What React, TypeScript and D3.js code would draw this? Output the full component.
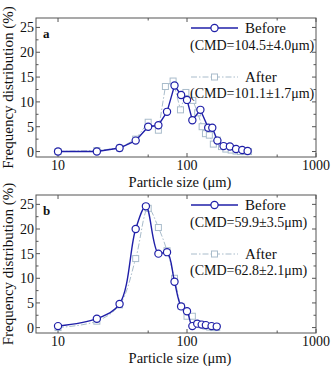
import React from 'react';
import * as d3 from 'd3';

// ---- data ----
const beforeA_x = [10, 20, 30, 40, 50, 60, 70, 80, 90, 100, 110, 127, 146, 157, 172, 192, 215, 240, 268, 295];
const beforeA_y = [0, 0, 0.7, 2.2, 5.0, 5.3, 8.0, 13.3, 11.4, 10.4, 6.3, 8.4, 4.8, 4.8, 2.2, 1.1, 1.0, 0.5, 0.3, 0.1];
const afterA_x = [10, 20, 30, 40, 50, 60, 68, 78, 89, 98, 111, 121, 131, 139, 149, 160, 172, 185, 200, 220, 240, 260, 280, 300];
const afterA_y = [0, 0.2, 0.7, 2.5, 5.9, 4.3, 13.1, 14.2, 8.4, 11.9, 10.3, 7.8, 5.0, 3.6, 3.3, 1.5, 2.3, 1.0, 0.5, 0.3, 0.1, 0, 0, 0];

const beforeB_x = [10, 20, 30, 40, 48, 60, 70, 80, 90, 100, 110, 120, 130, 140, 155, 170];
const beforeB_y = [0.3, 1.8, 4.8, 20.0, 24.6, 15.0, 15.3, 9.3, 4.3, 3.3, 0.3, 0.8, 0.6, 0.5, 0.3, 0.2];
const afterB_x = [10, 20, 30, 40, 50, 60, 70, 80, 90, 100, 110, 120, 130, 140, 150, 160, 170];
const afterB_y = [0, 1.3, 4.6, 14.0, 24.2, 20.3, 15.6, 10.0, 4.3, 2.3, 2.3, 0.8, 0.6, 0.3, 0.1, 0, 0];

const xTicks = [10, 100, 1000];
const xMinor = [50, 500];
const yTicks = [0, 5, 10, 15, 20, 25];
const yMinor = [2.5, 7.5, 12.5, 17.5, 22.5];

const panels = [
  { letter: 'a', top: 18, bottom: 157, bx: beforeA_x, by: beforeA_y, ax: afterA_x, ay: afterA_y,
    cmdBefore: '(CMD=104.5±4.0μm)', cmdAfter: '(CMD=101.1±1.7μm)', smooth: false },
  { letter: 'b', top: 195, bottom: 333, bx: beforeB_x, by: beforeB_y, ax: afterB_x, ay: afterB_y,
    cmdBefore: '(CMD=59.9±3.5μm)', cmdAfter: '(CMD=62.8±2.1μm)', smooth: true },
];

const BLUE = '#1f1fa8';
const GREY = '#a9bccb';
const FONT = "'Liberation Serif', 'Times New Roman', serif";

const left = 36;
const right = 316;

const Panel = ({ p }: { p: typeof panels[number] }) => {
  const x = d3.scaleLog().domain([6.75, 1000]).range([left, right]);
  const y = d3.scaleLinear().domain([-1.1, 26.9]).range([p.bottom, p.top]);

  const line = d3.line<[number, number]>()
    .x(d => x(d[0]))
    .y(d => y(d[1]))
    .curve(p.smooth ? d3.curveCatmullRom.alpha(0.5) : d3.curveLinear);

  const before = p.bx.map((v, i) => [v, p.by[i]] as [number, number]);
  const after = p.ax.map((v, i) => [v, p.ay[i]] as [number, number]);

  const midY = (p.top + p.bottom) / 2;
  const lx0 = 191, lx1 = 238;

  return (
    <g>
      {/* frame */}
      <rect x={left} y={p.top} width={right - left} height={p.bottom - p.top} fill="none" stroke="#555" strokeWidth={1} />
      {/* x ticks (inward on bottom & top) */}
      {xTicks.map(t => (
        <g key={'xt' + t}>
          <line x1={x(t)} x2={x(t)} y1={p.bottom} y2={p.bottom - 4} stroke="#555" />
          <line x1={x(t)} x2={x(t)} y1={p.top} y2={p.top + 4} stroke="#555" />
          <text x={x(t)} y={p.bottom + 13} textAnchor="middle" fontSize={14}>{t}</text>
        </g>
      ))}
      {xMinor.map(t => (
        <g key={'xm' + t}>
          <line x1={x(t)} x2={x(t)} y1={p.bottom} y2={p.bottom - 2.5} stroke="#555" />
          <line x1={x(t)} x2={x(t)} y1={p.top} y2={p.top + 2.5} stroke="#555" />
        </g>
      ))}
      {/* y ticks */}
      {yTicks.map(t => (
        <g key={'yt' + t}>
          <line x1={left} x2={left + 4} y1={y(t)} y2={y(t)} stroke="#555" />
          <line x1={right} x2={right - 4} y1={y(t)} y2={y(t)} stroke="#555" />
          <text x={left - 2} y={y(t) + 5} textAnchor="end" fontSize={14}>{t}</text>
        </g>
      ))}
      {yMinor.map(t => (
        <g key={'ym' + t}>
          <line x1={left} x2={left + 2.5} y1={y(t)} y2={y(t)} stroke="#555" />
          <line x1={right} x2={right - 2.5} y1={y(t)} y2={y(t)} stroke="#555" />
        </g>
      ))}
      {/* axis titles */}
      <text x={left + (right - left) / 2 + 4} y={p.bottom + 30} textAnchor="middle" fontSize={14.5}>Particle size (μm)</text>
      <text transform={`translate(13,${midY}) rotate(-90)`} textAnchor="middle" fontSize={15}>Frequency distribution (%)</text>
      <text x={43} y={p.top + 20} fontSize={13} fontWeight="bold">{p.letter}</text>

      {/* after series */}
      <path d={line(after) ?? ''} fill="none" stroke={GREY} strokeWidth={1} strokeDasharray="6,2,1.5,2" />
      {after.map((d, i) => (
        <rect key={'a' + i} x={x(d[0]) - 3} y={y(d[1]) - 3} width={6} height={6} fill="#fff" stroke={GREY} strokeWidth={1} />
      ))}
      {/* before series */}
      <path d={line(before) ?? ''} fill="none" stroke={BLUE} strokeWidth={1.4} />
      {before.map((d, i) => (
        <circle key={'b' + i} cx={x(d[0])} cy={y(d[1])} r={3.6} fill="#fff" stroke={BLUE} strokeWidth={1.2} />
      ))}

      {/* legend */}
      <line x1={lx0} x2={lx1} y1={p.top + 10} y2={p.top + 10} stroke={BLUE} strokeWidth={1.4} />
      <circle cx={(lx0 + lx1) / 2} cy={p.top + 10} r={3.6} fill="#fff" stroke={BLUE} strokeWidth={1.2} />
      <text x={245} y={p.top + 15} fontSize={15}>Before</text>
      <text x={190} y={p.top + 32} fontSize={14}>{p.cmdBefore}</text>
      <line x1={lx0} x2={lx1} y1={p.top + 59} y2={p.top + 59} stroke={GREY} strokeWidth={1} strokeDasharray="6,2,1.5,2" />
      <rect x={(lx0 + lx1) / 2 - 3} y={p.top + 56} width={6} height={6} fill="#fff" stroke={GREY} strokeWidth={1} />
      <text x={245} y={p.top + 64} fontSize={15}>After</text>
      <text x={190} y={p.top + 80} fontSize={14}>{p.cmdAfter}</text>
    </g>
  );
};

export default function App() {
  return (
    <svg width={331} height={366} style={{ position: 'absolute', left: 0, top: 0, background: '#fff' }}
      fontFamily={FONT} fill="#111">
      {panels.map(p => <Panel key={p.letter} p={p} />)}
    </svg>
  );
}
